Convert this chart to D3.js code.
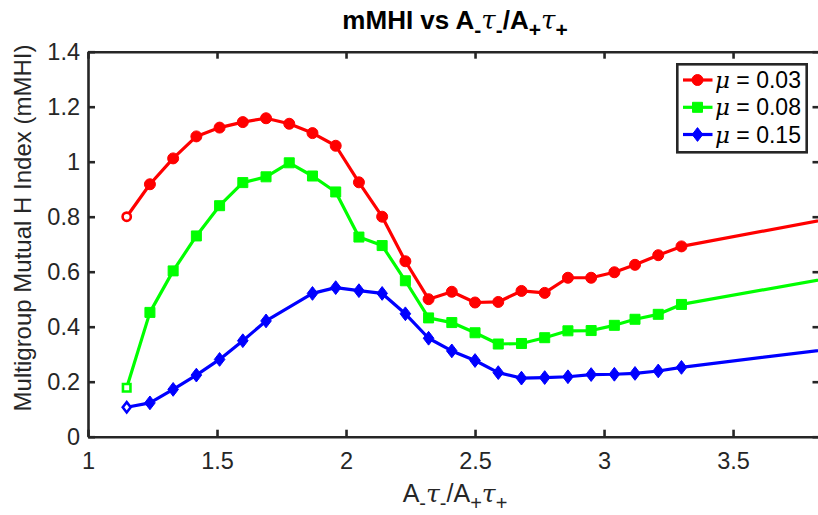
<!DOCTYPE html>
<html>
<head>
<meta charset="utf-8">
<script src="https://cdn.jsdelivr.net/npm/d3@7"></script>
<style>
  html, body { margin: 0; padding: 0; background: #fff; }
  svg { display: block; font-family: "Liberation Sans", Arial, Helvetica, sans-serif; }
</style>
</head>
<body>
<svg id="chart" width="818" height="515"></svg>
<script>
// Ratio A-τ-/A+τ+ at which each run was evaluated
const ratios = [1.15, 1.24, 1.33, 1.42, 1.51, 1.60, 1.69, 1.78, 1.87, 1.96,
                2.05, 2.14, 2.23, 2.32, 2.41, 2.50, 2.59, 2.68, 2.77, 2.86,
                2.95, 3.04, 3.12, 3.21, 3.30, 4.00];

// mMHI for each mobility setting (null = run not available)
const mhiMu003 = [0.800, 0.918, 1.012, 1.092, 1.124, 1.144, 1.158, 1.138, 1.104, 1.058,
                  0.925, 0.800, 0.638, 0.500, 0.527, 0.488, 0.490, 0.530, 0.523, 0.578,
                  0.578, 0.598, 0.625, 0.660, 0.692, 0.815];
const mhiMu008 = [0.178, 0.452, 0.603, 0.730, 0.840, 0.924, 0.945, 0.996, 0.948, 0.890,
                  0.726, 0.695, 0.567, 0.432, 0.415, 0.378, 0.337, 0.339, 0.360, 0.385,
                  0.386, 0.405, 0.427, 0.445, 0.481, 0.598];
const mhiMu015 = [0.107, 0.123, 0.172, 0.224, 0.281, 0.349, 0.421, null, 0.521, 0.542,
                  0.531, 0.521, 0.447, 0.358, 0.312, 0.277, 0.233, 0.213, 0.215, 0.218,
                  0.226, 0.227, 0.230, 0.239, 0.252, 0.333];

const seriesNames = ["0.03", "0.08", "0.15"];
const xTicks = [1, 1.5, 2, 2.5, 3, 3.5];
const yTicks = [0, 0.2, 0.4, 0.6, 0.8, 1, 1.2, 1.4];

const series = [
  { mu: seriesNames[0], values: mhiMu003, color: "#ff0000", marker: "circle" },
  { mu: seriesNames[1], values: mhiMu008, color: "#00ff00", marker: "square" },
  { mu: seriesNames[2], values: mhiMu015, color: "#0000ff", marker: "diamond" }
];

const svg = d3.select("#chart");
const axisColor = "#262626";
const plot = { left: 88, right: 819.5, top: 51.7, bottom: 436.7 };

const x = d3.scaleLinear().domain([1, 3.835]).range([plot.left, plot.right]);
const y = d3.scaleLinear().domain([0, 1.4]).range([plot.bottom, plot.top]);

svg.append("defs").append("clipPath").attr("id", "plotClip")
  .append("rect")
  .attr("x", plot.left).attr("y", plot.top - 8)
  .attr("width", plot.right - plot.left).attr("height", plot.bottom - plot.top + 16);

// Marker shapes
function markerPath(kind, s) {
  if (kind === "circle") return d3.symbol(d3.symbolCircle, Math.PI * s * s)();
  if (kind === "square") return `M${-s},${-s}H${s}V${s}H${-s}Z`;
  // diamond, a bit taller than wide
  return `M0,${-s * 1.3}L${s},0L0,${s * 1.3}L${-s},0Z`;
}
const markerSize = { circle: 5.5, square: 5.0, diamond: 5.3 };

// Data lines and markers
const dataLayer = svg.append("g").attr("clip-path", "url(#plotClip)");
series.forEach(s => {
  const pts = ratios.map((r, i) => ({ r, v: s.values[i], i })).filter(d => d.v !== null);
  dataLayer.append("path")
    .datum(pts)
    .attr("fill", "none")
    .attr("stroke", s.color)
    .attr("stroke-width", 3.2)
    .attr("stroke-linejoin", "round")
    .attr("d", d3.line().x(d => x(d.r)).y(d => y(d.v)));
  dataLayer.selectAll(null)
    .data(pts)
    .join("path")
    .attr("transform", d => `translate(${x(d.r)},${y(d.v)})`)
    .attr("d", d => markerPath(s.marker, d.i === 0 ? markerSize[s.marker] * 0.75 : markerSize[s.marker]))
    .attr("fill", d => d.i === 0 ? "#fff" : s.color)
    .attr("stroke", s.color)
    .attr("stroke-width", d => d.i === 0 ? 2.6 : 1);
});

// Axes (ticks pointing inward, box on all four sides)
const tickLen = 7;
const fmt = d => String(d);
const axB = svg.append("g").attr("transform", `translate(0,${plot.bottom})`)
  .call(d3.axisBottom(x).tickValues(xTicks).tickFormat(fmt).tickSizeInner(-tickLen).tickSizeOuter(0).tickPadding(16));
const axL = svg.append("g").attr("transform", `translate(${plot.left},0)`)
  .call(d3.axisLeft(y).tickValues(yTicks).tickFormat(fmt).tickSizeInner(-tickLen).tickSizeOuter(0).tickPadding(8));
const axT = svg.append("g").attr("transform", `translate(0,${plot.top})`)
  .call(d3.axisTop(x).tickValues(xTicks).tickFormat("").tickSizeInner(-tickLen).tickSizeOuter(0));
const axR = svg.append("g").attr("transform", `translate(${plot.right},0)`)
  .call(d3.axisRight(y).tickValues(yTicks).tickFormat("").tickSizeInner(-tickLen).tickSizeOuter(0));

[axB, axL, axT, axR].forEach(g => {
  g.select(".domain").attr("stroke", axisColor).attr("stroke-width", 2.6);
  g.selectAll(".tick line").attr("stroke", axisColor).attr("stroke-width", 2.6);
  g.selectAll(".tick text").attr("fill", axisColor).style("font-size", "23.5px")
    .style("font-family", '"Liberation Sans", Arial, sans-serif');
});

// Text with TeX-like subscripts and italic Greek letters
function richText(sel, parts, size) {
  const subSize = Math.round(size * 0.8);
  const drop = size * 0.3;
  let shifted = false;
  parts.forEach(p => {
    const t = sel.append("tspan").text(p.t);
    if (p.sub) {
      t.style("font-size", subSize + "px").attr("dy", shifted ? 0 : drop);
      shifted = true;
    } else {
      t.style("font-size", size + "px");
      if (shifted) { t.attr("dy", -drop); shifted = false; }
    }
    if (p.it) t.style("font-style", "italic").style("font-family", '"DejaVu Serif", serif').style("font-weight", "normal");
  });
}
const ratioLabel = [
  { t: "A" }, { t: "-", sub: true }, { t: "τ", it: true }, { t: "-", sub: true },
  { t: "/A" }, { t: "+", sub: true }, { t: "τ", it: true }, { t: "+", sub: true }
];

// Title
const title = svg.append("text")
  .attr("x", 455).attr("y", 29)
  .attr("text-anchor", "middle")
  .attr("fill", "#000")
  .style("font-weight", "bold");
richText(title, [{ t: "mMHI vs " }].concat(ratioLabel), 26);

// X label
const xl = svg.append("text")
  .attr("x", 455).attr("y", 502)
  .attr("text-anchor", "middle")
  .attr("fill", axisColor);
richText(xl, ratioLabel, 25);

// Y label
svg.append("text")
  .attr("transform", `translate(31,228) rotate(-90)`)
  .attr("text-anchor", "middle")
  .attr("fill", axisColor)
  .style("font-size", "24px")
  .text("Multigroup Mutual H Index (mMHI)");

// Legend
const lg = svg.append("g");
lg.append("rect")
  .attr("x", 677.3).attr("y", 64.3).attr("width", 129.4).attr("height", 88)
  .attr("fill", "#fff").attr("stroke", axisColor).attr("stroke-width", 2.6);
const rowY = [80, 107.3, 134.5];
series.forEach((s, i) => {
  const g = lg.append("g").attr("transform", `translate(0,${rowY[i]})`);
  g.append("line").attr("x1", 683).attr("x2", 712.5).attr("y1", 0).attr("y2", 0)
    .attr("stroke", s.color).attr("stroke-width", 3.2);
  g.append("path").attr("transform", "translate(697.5,0)")
    .attr("d", markerPath(s.marker, markerSize[s.marker]))
    .attr("fill", s.color).attr("stroke", s.color).attr("stroke-width", 1);
  const t = g.append("text").attr("x", 715).attr("y", 8).attr("fill", "#000").style("font-size", "23px");
  t.append("tspan").text("μ").style("font-style", "italic").style("font-family", '"DejaVu Serif", serif');
  t.append("tspan").text(" = " + s.mu);
});
</script>
</body>
</html>
